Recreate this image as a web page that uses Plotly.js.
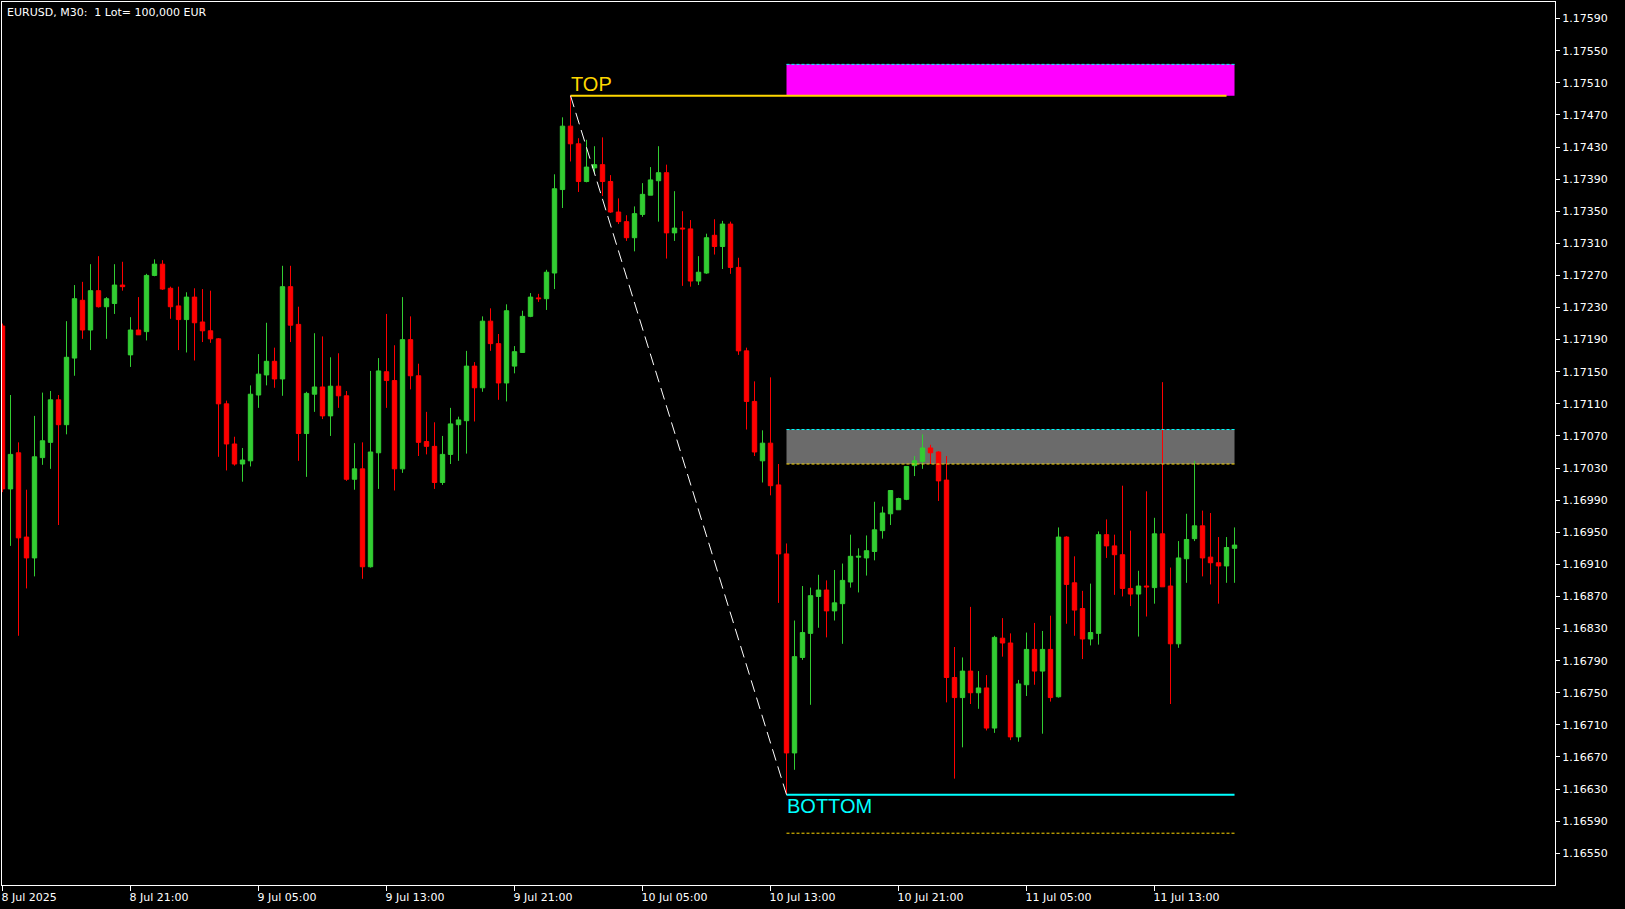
<!DOCTYPE html>
<html>
<head>
<meta charset="utf-8">
<script src="https://cdn.plot.ly/plotly-3.0.1.min.js"></script>
<style>
html,body{margin:0;padding:0;background:#000;}
#chart{width:1625px;height:909px;}
</style>
</head>
<body>
<div id="chart"></div>
<script>
// ---- data (EURUSD M30, first bar 8 Jul 2025 13:00) ----
const startTime = Date.UTC(2025, 6, 8, 13, 0);
const barMinutes = 30;

const open = [
1.17207,1.17004,1.17049,1.16944,1.16918,1.17043,1.17062,1.17115,1.17084,1.17167,
1.17239,1.17202,1.17251,1.17231,1.17235,1.17258,1.17171,1.17202,1.17200,1.17270,
1.17284,1.17254,1.17232,1.17215,1.17243,1.17212,1.17201,1.17191,1.17110,1.17060,
1.17035,1.17039,1.17121,1.17146,1.17163,1.17141,1.17256,1.17209,1.17073,1.17122,
1.17131,1.17095,1.17132,1.17120,1.17016,1.17029,1.16907,1.17049,1.17150,1.17139,
1.17029,1.17190,1.17145,1.17063,1.17057,1.17012,1.17047,1.17084,1.17089,1.17157,
1.17130,1.17213,1.17185,1.17136,1.17157,1.17174,1.17219,1.17242,1.17241,1.17273,
1.17377,1.17456,1.17434,1.17387,1.17404,1.17408,1.17387,1.17349,1.17337,1.17317,
1.17346,1.17370,1.17388,1.17398,1.17323,1.17329,1.17328,1.17263,1.17273,1.17320,
1.17306,1.17334,1.17280,1.17176,1.17113,1.17039,1.17061,1.17009,1.16923,1.16675,
1.16794,1.16824,1.16870,1.16878,1.16852,1.16861,1.16888,1.16919,1.16918,1.16926,
1.16952,1.16973,1.16978,1.16991,1.17033,1.17038,1.17055,1.17050,1.17015,1.16769,
1.16744,1.16777,1.16750,1.16756,1.16706,1.16818,1.16812,1.16695,1.16760,1.16804,
1.16777,1.16804,1.16745,1.16944,1.16887,1.16855,1.16817,1.16824,1.16947,1.16933,
1.16922,1.16880,1.16873,1.16883,1.16881,1.16948,1.16883,1.16811,1.16917,1.16942,
1.16958,1.16919,1.16912,1.16908,1.16930
];
const high = [
1.17210,1.17121,1.17062,1.17003,1.17095,1.17124,1.17126,1.17121,1.17213,1.17258,
1.17262,1.17284,1.17294,1.17243,1.17284,1.17287,1.17218,1.17243,1.17272,1.17290,
1.17289,1.17256,1.17256,1.17249,1.17254,1.17253,1.17251,1.17192,1.17114,1.17069,
1.17055,1.17133,1.17172,1.17211,1.17180,1.17282,1.17282,1.17231,1.17125,1.17198,
1.17194,1.17168,1.17173,1.17126,1.17061,1.17062,1.17151,1.17167,1.17222,1.17183,
1.17243,1.17219,1.17160,1.17100,1.17087,1.17070,1.17105,1.17094,1.17176,1.17162,
1.17219,1.17229,1.17197,1.17234,1.17182,1.17226,1.17248,1.17247,1.17277,1.17396,
1.17467,1.17494,1.17441,1.17439,1.17431,1.17442,1.17395,1.17366,1.17345,1.17356,
1.17385,1.17405,1.17431,1.17408,1.17375,1.17350,1.17339,1.17294,1.17322,1.17340,
1.17338,1.17337,1.17292,1.17180,1.17138,1.17077,1.17143,1.17035,1.16936,1.16840,
1.16883,1.16881,1.16897,1.16890,1.16903,1.16911,1.16947,1.16930,1.16946,1.16988,
1.16982,1.17002,1.16993,1.17032,1.17045,1.17072,1.17059,1.17051,1.17045,1.16807,
1.16794,1.16857,1.16777,1.16772,1.16821,1.16843,1.16824,1.16766,1.16825,1.16837,
1.16827,1.16846,1.16956,1.16945,1.16920,1.16877,1.16886,1.16951,1.16966,1.16947,
1.17008,1.16952,1.16902,1.17001,1.16968,1.17137,1.16906,1.16939,1.16973,1.17039,
1.16977,1.16974,1.16944,1.16944,1.16956
];
const low = [
1.17000,1.16933,1.16821,1.16880,1.16895,1.17034,1.17029,1.16959,1.17072,1.17145,
1.17191,1.17177,1.17230,1.17191,1.17222,1.17251,1.17156,1.17196,1.17189,1.17269,
1.17252,1.17216,1.17177,1.17174,1.17164,1.17187,1.17186,1.17044,1.17027,1.17033,
1.17013,1.17032,1.17105,1.17133,1.17130,1.17120,1.17187,1.17039,1.17019,1.17100,
1.17091,1.17070,1.17105,1.17014,1.17003,1.16892,1.16906,1.17004,1.17105,1.17002,
1.17024,1.17128,1.17045,1.17047,1.17004,1.17009,1.17035,1.17039,1.17048,1.17088,
1.17125,1.17176,1.17115,1.17113,1.17148,1.17174,1.17218,1.17237,1.17227,1.17253,
1.17354,1.17412,1.17374,1.17386,1.17398,1.17369,1.17348,1.17334,1.17313,1.17300,
1.17343,1.17370,1.17337,1.17291,1.17313,1.17257,1.17256,1.17258,1.17272,1.17296,
1.17278,1.17272,1.17171,1.17078,1.17045,1.17012,1.16996,1.16862,1.16623,1.16654,
1.16791,1.16735,1.16831,1.16819,1.16840,1.16811,1.16881,1.16875,1.16896,1.16915,
1.16942,1.16959,1.16978,1.16990,1.17020,1.17029,1.17035,1.16989,1.16738,1.16643,
1.16682,1.16736,1.16730,1.16703,1.16700,1.16795,1.16691,1.16689,1.16746,1.16760,
1.16699,1.16739,1.16744,1.16836,1.16821,1.16792,1.16809,1.16810,1.16918,1.16872,
1.16870,1.16858,1.16820,1.16845,1.16861,1.16882,1.16736,1.16806,1.16887,1.16939,
1.16895,1.16885,1.16861,1.16887,1.16887
];
const close = [
1.17004,1.17047,1.16943,1.16918,1.17044,1.17064,1.17115,1.17084,1.17168,1.17241,
1.17202,1.17251,1.17231,1.17241,1.17258,1.17256,1.17202,1.17196,1.17270,1.17284,
1.17253,1.17231,1.17215,1.17243,1.17211,1.17201,1.17191,1.17110,1.17060,1.17035,
1.17040,1.17122,1.17147,1.17163,1.17141,1.17256,1.17208,1.17073,1.17123,1.17131,
1.17095,1.17132,1.17120,1.17016,1.17029,1.16907,1.17050,1.17151,1.17139,1.17029,
1.17190,1.17145,1.17062,1.17057,1.17012,1.17047,1.17085,1.17090,1.17157,1.17130,
1.17213,1.17185,1.17136,1.17226,1.17175,1.17219,1.17243,1.17241,1.17274,1.17378,
1.17456,1.17434,1.17387,1.17405,1.17408,1.17387,1.17349,1.17337,1.17317,1.17347,
1.17371,1.17389,1.17398,1.17323,1.17329,1.17328,1.17263,1.17274,1.17317,1.17306,
1.17334,1.17280,1.17176,1.17113,1.17050,1.17061,1.17008,1.16923,1.16675,1.16795,
1.16825,1.16871,1.16878,1.16852,1.16862,1.16890,1.16920,1.16920,1.16927,1.16953,
1.16974,1.17002,1.16992,1.17032,1.17039,1.17055,1.17049,1.17014,1.16769,1.16744,
1.16777,1.16750,1.16756,1.16706,1.16819,1.16812,1.16695,1.16761,1.16804,1.16777,
1.16804,1.16744,1.16944,1.16885,1.16853,1.16817,1.16825,1.16947,1.16933,1.16922,
1.16880,1.16873,1.16883,1.16882,1.16948,1.16882,1.16811,1.16918,1.16941,1.16958,
1.16918,1.16912,1.16908,1.16931,1.16934
];

// swing points (bar index, price)
const topBar = 71, topPrice = 1.17494;
const bottomBar = 98, bottomPrice = 1.16623;
const zoneEndBar = 154, topLineEndBar = 153;
// zones
const supplyZone = [1.17494, 1.17533];   // magenta
const grayZone = [1.17035, 1.17078];     // grey
const bottomTarget = 1.16575;            // yellow dashed below BOTTOM

// axis ticks
const xTickBars = [0,16,32,48,64,80,96,112,128,144];
const xTickText = ["8 Jul 2025","8 Jul 21:00","9 Jul 05:00","9 Jul 13:00","9 Jul 21:00",
                   "10 Jul 05:00","10 Jul 13:00","10 Jul 21:00","11 Jul 05:00","11 Jul 13:00"];
const yTickVals = [1.16550,1.16590,1.16630,1.16670,1.16710,1.16750,1.16790,1.16830,1.16870,
  1.16910,1.16950,1.16990,1.17030,1.17070,1.17110,1.17150,1.17190,1.17230,1.17270,1.17310,
  1.17350,1.17390,1.17430,1.17470,1.17510,1.17550,1.17590];
const yTickText = yTickVals.map(v => v.toFixed(5));
const headerText = "EURUSD, M30:\u00a0\u00a01 Lot= 100,000 EUR";

// ---- helpers ----
function pad(n, w){ let s = String(n); while (s.length < (w||2)) s = '0' + s; return s; }
function barTime(k){
  const d = new Date(startTime + k * barMinutes * 60000);
  return d.getUTCFullYear() + '-' + pad(d.getUTCMonth()+1) + '-' + pad(d.getUTCDate()) + ' ' +
         pad(d.getUTCHours()) + ':' + pad(d.getUTCMinutes()) + ':' + pad(d.getUTCSeconds()) + '.' + pad(d.getUTCMilliseconds(),3);
}
const times = open.map((_, i) => barTime(i));

const GREEN = '#32CD32', RED = '#FF0000', GOLD = '#FFD700', CYAN = '#00FFFF';

const candle = {
  type: 'candlestick',
  x: times, open: open, high: high, low: low, close: close,
  increasing: {line: {color: GREEN, width: 1}, fillcolor: GREEN},
  decreasing: {line: {color: RED, width: 1}, fillcolor: RED},
  whiskerwidth: 0,
  hoverinfo: 'skip',
  showlegend: false
};

function hline(x0, x1, y, color, width, dash){
  return {type:'line', xref:'x', yref:'y', x0:barTime(x0), x1:barTime(x1), y0:y, y1:y,
          line:{color:color, width:width, dash:dash||'solid'}};
}

const shapes = [
  {type:'rect', xref:'x', yref:'y', x0:barTime(bottomBar), x1:barTime(zoneEndBar),
   y0:supplyZone[0], y1:supplyZone[1], fillcolor:'#FF00FF', line:{width:0}, layer:'below'},
  hline(bottomBar, zoneEndBar, supplyZone[1], CYAN, 1, '3px,2px'),
  {type:'rect', xref:'x', yref:'y', x0:barTime(bottomBar), x1:barTime(zoneEndBar),
   y0:grayZone[0], y1:grayZone[1], fillcolor:'#6B6B6B', line:{width:0}, layer:'below'},
  hline(bottomBar, zoneEndBar, grayZone[1], CYAN, 1, '3px,2px'),
  hline(bottomBar, zoneEndBar, grayZone[0], GOLD, 1, '3px,2px'),
  hline(topBar, topLineEndBar, topPrice, GOLD, 2),
  hline(bottomBar, zoneEndBar, bottomPrice, CYAN, 2),
  hline(bottomBar, zoneEndBar, bottomTarget, GOLD, 1, '3px,2px'),
  {type:'line', xref:'x', yref:'y', x0:barTime(topBar), y0:topPrice, x1:barTime(bottomBar), y1:bottomPrice,
   line:{color:'#FFFFFF', width:1, dash:'12px,6px'}}
];

const annotations = [
  {xref:'paper', yref:'paper', x:0, y:1, xanchor:'left', yanchor:'top', xshift:3, yshift:-2,
   text: headerText, showarrow:false, font:{family:'DejaVu Sans', size:11, color:'#FFFFFF'}},
  {xref:'x', yref:'y', x:barTime(topBar), y:topPrice, xanchor:'left', yanchor:'bottom', xshift:-2, yshift:-1,
   text:'TOP', showarrow:false, font:{family:'Liberation Sans, Arial', size:20, color:GOLD}},
  {xref:'x', yref:'y', x:barTime(bottomBar), y:bottomPrice, xanchor:'left', yanchor:'top', xshift:-2, yshift:2,
   text:'BOTTOM', showarrow:false, font:{family:'Liberation Sans, Arial', size:20, color:CYAN}}
];

const halfBar = barMinutes * 60000;
const layout = {
  width: 1625, height: 909,
  margin: {l: 2, r: 70, t: 2, b: 24, pad: 0},
  paper_bgcolor: '#000000', plot_bgcolor: '#000000',
  showlegend: false, hovermode: false, dragmode: false,
  boxgap: 0.45, boxgroupgap: 0,
  xaxis: {
    type: 'date',
    range: [new Date(startTime - 0.0625*halfBar).toISOString().replace('T',' ').replace('Z',''),
            new Date(startTime + 194.06*halfBar).toISOString().replace('T',' ').replace('Z','')],
    rangeslider: {visible: false},
    showgrid: false, zeroline: false,
    showline: true, mirror: true, linecolor: '#FFFFFF', linewidth: 1,
    ticks: 'outside', ticklen: 5, tickcolor: '#FFFFFF', tickwidth: 1,
    tickmode: 'array', tickvals: xTickBars.map(barTime), ticktext: xTickText,
    ticklabelposition: 'outside right',
    ticklabelshift: -2, ticklabelstandoff: 2,
    tickfont: {family: 'DejaVu Sans', size: 11, color: '#FFFFFF'},
    fixedrange: true
  },
  yaxis: {
    side: 'right',
    range: [1.1651047, 1.1761069],
    showgrid: false, zeroline: false,
    showline: true, mirror: true, linecolor: '#FFFFFF', linewidth: 1,
    ticks: 'outside', ticklen: 4, tickcolor: '#FFFFFF', tickwidth: 1,
    tickmode: 'array', tickvals: yTickVals, ticktext: yTickText,
    tickfont: {family: 'DejaVu Sans', size: 11, color: '#FFFFFF'},
    fixedrange: true
  },
  shapes: shapes,
  annotations: annotations
};

Plotly.newPlot('chart', [candle], layout, {staticPlot: true, displayModeBar: false});
</script>
</body>
</html>
